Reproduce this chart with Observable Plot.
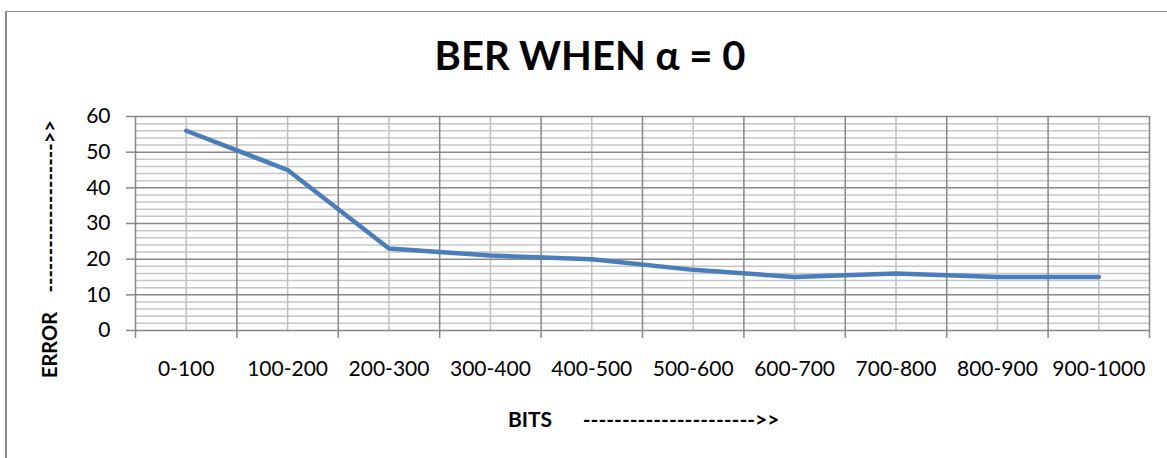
<!DOCTYPE html>
<html>
<head>
<meta charset="utf-8">
<script src="https://cdn.jsdelivr.net/npm/d3@7"></script>
<script src="https://cdn.jsdelivr.net/npm/@observablehq/plot@0.6"></script>
<style>
  html, body { margin: 0; padding: 0; background: #fff; }
  #wrap { position: relative; width: 1167px; height: 458px; overflow: hidden; }
  #frame { position: absolute; left: 5px; top: 11px; width: 1200px; height: 500px;
           border-left: 2.5px solid #8a8a8a; border-top: 1.5px solid #8a8a8a; }
  #chart { position: absolute; left: 0; top: 0; }
  svg text { font-family: Lato, "Open Sans", sans-serif; }
</style>
</head>
<body>
<div id="wrap"><div id="frame"></div><div id="chart"></div></div>
<script>
const categories = ["0-100", "100-200", "200-300", "300-400", "400-500",
                    "500-600", "600-700", "700-800", "800-900", "900-1000"];
const errors = [56, 45, 23, 21, 20, 17, 15, 16, 15, 15];
const yTicks = [0, 10, 20, 30, 40, 50, 60];
const yMinor = d3.range(0, 61, 2).filter(v => v % 10 !== 0);
const titleText = "BER WHEN \u03b1 = 0";
const xTitle = "BITS      ---------------------->>";
const yTitle = "ERROR    -------------------->>";

const boundaries = d3.range(0, categories.length + 1);
const centers = categories.map((c, i) => i + 0.5);
const data = categories.map((c, i) => ({pos: i + 0.5, cat: c, err: errors[i]}));

const plot = Plot.plot({
  width: 1167,
  height: 458,
  marginLeft: 135,
  marginRight: 18,
  marginTop: 116,
  marginBottom: 128,
  style: {fontFamily: "Lato, 'Open Sans', sans-serif", background: "transparent"},
  x: {type: "linear", domain: [0, categories.length]},
  y: {domain: [0, 60]},
  marks: [
    Plot.ruleY(yMinor, {stroke: "#c6c6c6", strokeWidth: 1.5}),
    Plot.ruleX(centers, {stroke: "#c0c0c0", strokeWidth: 1.5}),
    Plot.ruleY(yTicks, {stroke: "#878787", strokeWidth: 1.5}),
    Plot.ruleX(boundaries, {stroke: "#878787", strokeWidth: 1.5}),
    Plot.axisY({ticks: yTicks, tickSize: 9, tickPadding: 16, fontSize: 21,
                stroke: "#878787", strokeWidth: 1.5, fill: "#000", label: null}),
    Plot.axisX({ticks: boundaries, tickSize: 8, tickFormat: () => "",
                stroke: "#878787", strokeWidth: 1.5, label: null}),
    Plot.axisX({ticks: centers, tickSize: 0, tickPadding: 31, fontSize: 21,
                tickFormat: d => categories[Math.floor(d)], fill: "#000", label: null}),
    Plot.line(data, {x: "pos", y: "err", stroke: "#4a7ebb", strokeWidth: 4.5,
                     strokeLinecap: "round", strokeLinejoin: "round"})
  ]
});

const svg = d3.select(plot);
svg.append("text")
  .attr("x", 590).attr("y", 70)
  .attr("text-anchor", "middle")
  .attr("font-size", 40).attr("font-weight", "bold")
  .attr("fill", "#000")
  .text(titleText);
svg.append("text")
  .attr("x", 508).attr("y", 427)
  .attr("text-anchor", "start")
  .attr("font-size", 21).attr("font-weight", "bold")
  .attr("fill", "#000")
  .style("white-space", "pre")
  .text(xTitle);
svg.append("text")
  .attr("transform", "translate(57,378) rotate(-90)")
  .attr("text-anchor", "start")
  .attr("font-size", 20).attr("font-weight", "bold")
  .attr("fill", "#000")
  .style("white-space", "pre")
  .text(yTitle);

document.getElementById("chart").appendChild(plot);
</script>
</body>
</html>
